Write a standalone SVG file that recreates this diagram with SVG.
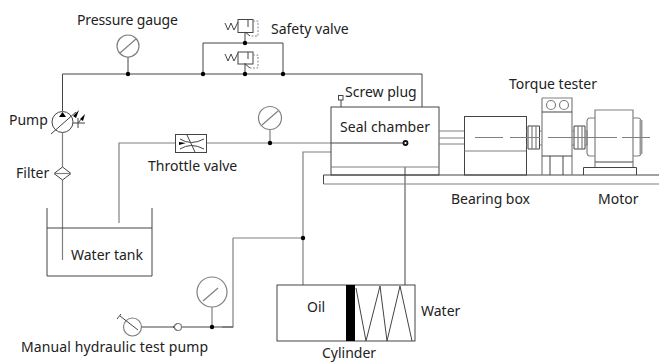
<svg xmlns="http://www.w3.org/2000/svg" width="659" height="363" viewBox="0 0 659 363">
<style>
.l{fill:none;stroke:#444;stroke-width:1}
.g{fill:none;stroke:#808080;stroke-width:1.2}
.d{fill:#000;stroke:none}
.dash{fill:none;stroke:#888;stroke-width:1;stroke-dasharray:2 1.5}
text{font-family:"Noto Sans","Open Sans","Liberation Sans",sans-serif;font-size:14px;fill:#222}
</style>
<rect width="659" height="363" fill="#fff"/>
<g id="connectors">
<path class="l" d="M62.500 111V74H422V107"/>
<path class="g" d="M62.500 133V167M62.500 180V260"/>
<path class="l" d="M128 57V74M203 74V43H283V74M245 32V43M245 63V74"/>
<path class="g" d="M119 223V143H175M206 143H331"/>
<path class="l" d="M331 143H404"/>
<path class="g" d="M270 130V143M303 285V152H331M233 238H303M233 238V327H222"/>
<path class="l" d="M405 167V285M141 327H173M182 327H233"/>
<path class="g" d="M212 307V327"/>
<circle class="d" cx="128" cy="74" r="2.200"/><circle class="d" cx="203" cy="74" r="2.200"/><circle class="d" cx="245" cy="74" r="2.200"/><circle class="d" cx="283" cy="74" r="2.200"/><circle class="d" cx="245" cy="43" r="2.200"/><circle class="d" cx="270" cy="143" r="2.200"/><circle class="d" cx="303" cy="238" r="2.200"/><circle class="d" cx="212" cy="327" r="2.200"/>
</g>
<g id="pressure-gauge-1"><circle class="g" cx="128" cy="46" r="11"/><path class="g" d="M120 53L136 39"/><text x="77" y="25" textLength="101">Pressure gauge</text></g>
<g id="safety-valve-1"><path class="l" d="M225 23L228 30L231 23L234 30L238 22"/><rect class="l" x="238" y="19.500" width="15" height="13"/><path class="l" d="M248 20V27M245 32L250 36"/><path class="dash" d="M253 21H258V36H250"/><text x="271" y="34">Safety valve</text></g>
<g id="safety-valve-2"><path class="l" d="M225 54L228 61L231 54L234 61L238 53"/><rect class="l" x="238" y="52" width="15" height="12"/><path class="l" d="M248 52V59M245 64L250 68"/><path class="dash" d="M253 55H258V68H250"/></g>
<g id="pump"><circle class="l" cx="62.500" cy="122" r="10.500"/><path class="l" d="M51 134L76 112M73 123H85M78 118V128M78 123L84 116"/><path class="d" d="M59 117L62.500 112L66 117ZM73 116L79 110L76 118ZM80 119L85 114L83 121Z"/><text x="9" y="125">Pump</text></g>
<g id="filter"><path class="l" d="M54 173.500L62.500 167L71 173.500L62.500 180Z"/><path class="g" d="M54 173.500H71"/><text x="16" y="178">Filter</text></g>
<g id="water-tank"><path class="l" d="M47 208V276H152V208M47 228H152"/><text x="71" y="260">Water tank</text></g>
<g id="throttle-valve"><rect class="l" x="175.500" y="134.500" width="31" height="18"/><path class="l" d="M180 139Q191 146 204 139M180 149Q191 142 204 149M187 135L195 152"/><path class="d" d="M179 142L186 143L179 145Z"/><text x="148" y="171">Throttle valve</text></g>
<g id="pressure-gauge-2"><circle class="g" cx="270" cy="118" r="11.500"/><path class="g" d="M262 125L278 111"/></g>
<g id="seal-chamber"><rect class="l" x="331" y="107" width="108" height="68"/><path class="g" d="M331 167H439"/><circle cx="405.500" cy="143" r="2" fill="#fff" stroke="#111" stroke-width="1.800"/><text x="340" y="132" textLength="90">Seal chamber</text></g>
<g id="screw-plug"><rect class="l" x="338.500" y="95.500" width="4.500" height="4.500"/><path class="l" d="M341 100V107"/><text x="345" y="97">Screw plug</text></g>
<g id="base-plate"><path class="l" d="M659 175H323.500V184"/><path class="g" d="M323.500 184H659"/></g>
<g id="bearing-box"><path class="g" d="M439 131H464M439 138H464M439 144H464"/><rect class="l" x="464.500" y="116.500" width="62" height="58.500"/><path class="g" d="M464.500 151H526"/><path class="l" d="M528 126H539.500V149H528Z"/><path class="g" d="M532 126V149M536 126V149M540 131H542M540 145H542M526 131H528M526 145H528"/><text x="451" y="204" textLength="79">Bearing box</text></g>
<g id="torque-tester"><path class="g" d="M542 98H572V175M542 175V98"/><path class="l" d="M542 112H572M542 156H572M550 156V175M563 156V175"/><circle class="g" cx="551" cy="105" r="4.500"/><circle class="g" cx="564" cy="105" r="4.500"/><path class="l" d="M574 126H585V149H574Z"/><path class="g" d="M578 126V149M582 126V149M585 131H587V145H585M572 131H574M572 145H574"/><text x="509" y="89">Torque tester</text></g>
<g id="motor"><path class="g" d="M595 162V110H633V162"/><path class="g" d="M595 118H590Q587 118 587 122V152Q587 156 590 156H595M633 118H638Q641 118 641 122V152Q641 156 638 156H633"/><path d="M641 120V154" stroke="#999" stroke-width="3" fill="none"/><path class="l" d="M595 162H633"/><path class="g" d="M595 162V167M633 162V167"/><path class="l" d="M583.500 175V167.500H636.500V175"/><text x="598" y="204">Motor</text></g>
<g id="center-line"><path class="g" d="M475 137.500H503M510 137.500H540M548 137.500H617M622 137.500H650"/></g>
<g id="cylinder"><rect class="l" x="277" y="285" width="138" height="56"/><rect x="346" y="285" width="9" height="56" fill="#000"/><path class="l" d="M356 288L366 341L380 286L387 341L400 286L412 341"/><text x="307" y="312">Oil</text><text x="421" y="316">Water</text><text x="322" y="358">Cylinder</text></g>
<g id="pressure-gauge-3"><circle class="g" cx="212" cy="292" r="15"/><path class="g" d="M203 301L218 288"/></g>
<g id="manual-pump"><circle class="g" cx="132.500" cy="327" r="9"/><path class="l" d="M138 330L120 316M117 319L121 314"/><text x="21" y="352" textLength="187">Manual hydraulic test pump</text></g>
<g id="check-valve"><path class="l" d="M173 327L177 323.500M173 327L177 330.500"/><circle class="g" cx="178" cy="327" r="3.500"/></g>
</svg>
